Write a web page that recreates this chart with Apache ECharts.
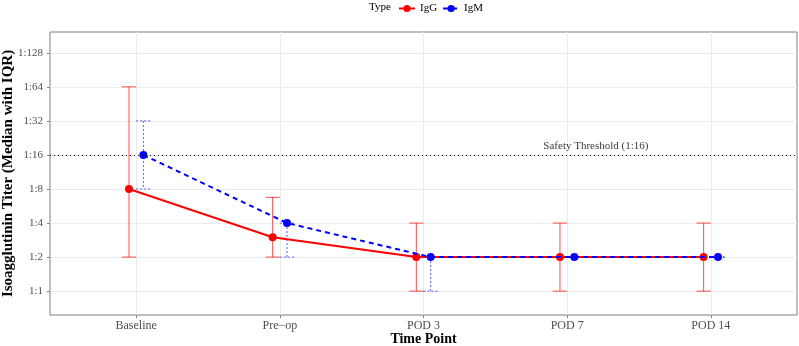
<!DOCTYPE html>
<html>
<head>
<meta charset="utf-8">
<script src="https://cdn.jsdelivr.net/npm/echarts@6/dist/echarts.min.js"></script>
<style>
  html, body { margin: 0; padding: 0; background: #fff; }
  #chart { width: 799px; height: 346px; }
</style>
</head>
<body>
<div id="chart"></div>
<script>
// time points
const categories = ["Baseline", "Pre\u2212op", "POD 3", "POD 7", "POD 14"];
const tickTiters = [1, 2, 4, 8, 16, 32, 64, 128];

// IgG median + IQR
const iggMedian = [8, 3, 2, 2, 2];
const iggLow = [2, 2, 1, 1, 1];
const iggHigh = [64, 6.75, 4, 4, 4];

// IgM median + IQR
const igmMedian = [16, 4, 2, 2, 2];
const igmLow = [8, 2, 1, 2, 2];
const igmHigh = [32, 4, 2, 2, 2];

const threshold = 16;
const thresholdLabel = "Safety Threshold (1:16)";
const thresholdLabelX = 4.2;

const dodge = 0.05;
const serif = "'Liberation Serif', 'DejaVu Serif', serif";

const chart = echarts.init(document.getElementById("chart"));

function pts(med, off) {
  return med.map((v, i) => [i + 1 + off, Math.log2(v)]);
}
function bars(lo, hi, off) {
  return lo.map((v, i) => [i + 1 + off, Math.log2(v), Math.log2(hi[i])]);
}

function errorBar(color, dash) {
  return function (params, api) {
    const x = api.value(0);
    const top = api.coord([x, api.value(2)]);
    const bot = api.coord([x, api.value(1)]);
    const half = api.size([dodge, 0])[0];
    const style = { stroke: color, lineWidth: 1, lineDash: dash };
    return {
      type: "group",
      children: [
        { type: "line", shape: { x1: top[0], y1: top[1], x2: bot[0], y2: bot[1] }, style: style },
        { type: "line", shape: { x1: top[0] - half, y1: top[1], x2: top[0] + half, y2: top[1] }, style: style },
        { type: "line", shape: { x1: bot[0] - half, y1: bot[1], x2: bot[0] + half, y2: bot[1] }, style: style }
      ]
    };
  };
}

const option = {
  animation: false,
  title: {
    text: "Type",
    left: 369,
    top: 2,
    padding: 0,
    textStyle: { fontFamily: serif, fontSize: 11, fontWeight: "normal", color: "#000" }
  },
  legend: {
    data: ["IgG", "IgM"],
    left: 398,
    top: 3,
    padding: 0,
    itemWidth: 16,
    itemHeight: 9,
    itemGap: 5,
    textStyle: { fontFamily: serif, fontSize: 11, color: "#000" }
  },
  grid: {
    left: 50, right: 2, top: 32, bottom: 31,
    containLabel: false,
    outerBoundsMode: "none",
    show: true, borderColor: "#7f7f7f", borderWidth: 1
  },
  xAxis: {
    type: "value",
    min: 0.4,
    max: 5.6,
    minInterval: 1,
    maxInterval: 1,
    name: "Time Point",
    nameLocation: "middle",
    nameMoveOverlap: false,
    nameGap: 17,
    nameTextStyle: { fontFamily: serif, fontSize: 14, fontWeight: "bold", color: "#000" },
    axisLine: { show: false, onZero: false },
    axisTick: { length: 3, lineStyle: { color: "#7f7f7f" } },
    axisLabel: {
      showMinLabel: false, showMaxLabel: false,
      margin: 5,
      fontFamily: serif, fontSize: 12, color: "#4d4d4d",
      formatter: v => Number.isInteger(v) && categories[v - 1] ? categories[v - 1] : ""
    },
    splitLine: { show: true, showMinLine: false, showMaxLine: false, lineStyle: { color: "#ebebeb" } }
  },
  yAxis: {
    type: "value",
    min: -0.7,
    max: 7.61,
    minInterval: 1,
    maxInterval: 1,
    name: "Isoagglutinin Titer (Median with IQR)",
    nameLocation: "middle",
    nameMoveOverlap: false,
    nameGap: 34,
    nameTextStyle: { fontFamily: serif, fontSize: 15, fontWeight: "bold", color: "#000" },
    axisLine: { show: false, onZero: false },
    axisTick: { length: 3, lineStyle: { color: "#7f7f7f" } },
    axisLabel: {
      showMinLabel: false, showMaxLabel: false,
      margin: 7,
      fontFamily: serif, fontSize: 11, color: "#4d4d4d",
      formatter: v => Number.isInteger(v) && tickTiters.indexOf(Math.pow(2, v)) >= 0 ? "1:" + Math.pow(2, v) : ""
    },
    splitLine: { show: true, showMinLine: false, showMaxLine: false, lineStyle: { color: "#ebebeb" } }
  },
  series: [
    {
      type: "scatter",
      symbolSize: 0,
      silent: true,
      data: [[thresholdLabelX, Math.log2(threshold)]],
      label: {
        show: true, position: "top", distance: 3,
        formatter: thresholdLabel,
        fontFamily: serif, fontSize: 11, color: "#000"
      },
      markLine: {
        silent: true, symbol: "none", label: { show: false },
        lineStyle: { color: "#000", type: [1, 3], width: 1 },
        data: [{ yAxis: Math.log2(threshold) }]
      }
    },
    {
      type: "custom",
      renderItem: errorBar("rgba(255,0,0,0.7)", null),
      data: bars(iggLow, iggHigh, -dodge),
      z: 2
    },
    {
      type: "custom",
      renderItem: errorBar("rgba(0,0,255,0.65)", [2, 2]),
      data: bars(igmLow, igmHigh, dodge),
      z: 2
    },
    {
      name: "IgG",
      type: "line",
      data: pts(iggMedian, -dodge),
      color: "#ff0000",
      symbol: "circle",
      symbolSize: 8,
      lineStyle: { width: 2, color: "#ff0000" },
      itemStyle: { color: "#ff0000" },
      z: 3
    },
    {
      name: "IgM",
      type: "line",
      data: pts(igmMedian, dodge),
      color: "#0000ff",
      symbol: "circle",
      symbolSize: 8,
      lineStyle: { width: 2, color: "#0000ff", type: [5, 4] },
      itemStyle: { color: "#0000ff" },
      z: 4
    }
  ]
};

chart.setOption(option);
</script>
</body>
</html>
